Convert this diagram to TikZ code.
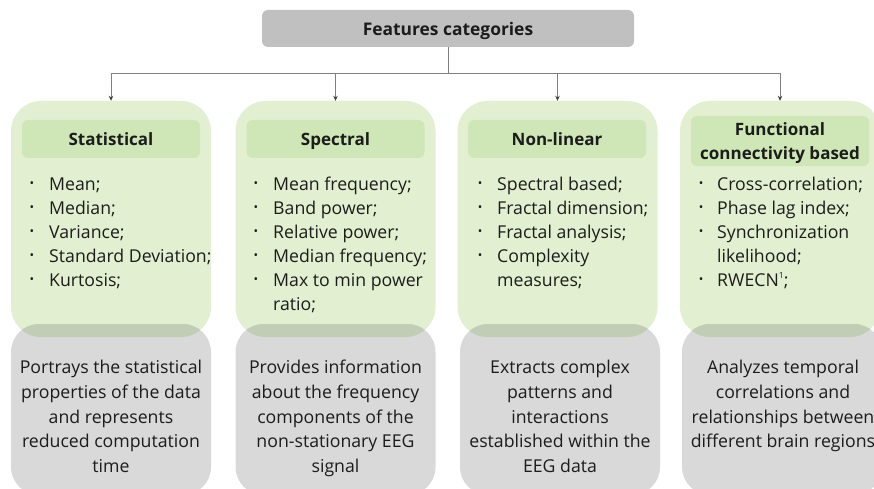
\documentclass[tikz,border=0pt]{standalone}
\usepackage{fontspec}
\setmainfont{Open Sans}
\usetikzlibrary{arrows.meta,calc}

\definecolor{greenbg}{RGB}{226,240,209}
\definecolor{greenhd}{RGB}{207,231,182}
\definecolor{greydesc}{RGB}{217,217,217}
\definecolor{greytitle}{RGB}{192,192,192}
\definecolor{overlapc}{RGB}{193,205,180}
\definecolor{ink}{RGB}{28,28,28}
\definecolor{linecol}{RGB}{128,128,128}

\tikzset{
  catbox/.style={fill=greenbg, rounded corners=30pt, minimum width=200pt,
    minimum height=236pt, inner sep=0pt},
  headbox/.style={fill=greenhd, rounded corners=6pt, minimum width=178pt,
    minimum height=38pt, inner sep=0pt},
  descbox/.style={fill=greydesc, rounded corners=28pt, minimum width=200pt,
    minimum height=171pt, inner sep=0pt},
  titlebox/.style={fill=greytitle, rounded corners=6pt, minimum width=372pt,
    minimum height=37pt, inner sep=0pt},
  txt/.style={inner sep=0pt, text=ink, font=\fontsize{17.7}{24}\selectfont},
  hd/.style={inner sep=0pt, text=ink, font=\bfseries\fontsize{17}{24}\selectfont},
  ttl/.style={inner sep=0pt, text=ink, font=\bfseries\fontsize{17.4}{20}\selectfont},
  dot/.style={inner sep=0pt, text=ink, font=\fontsize{12}{12}\selectfont},
  trunk/.style={draw=linecol, line width=1pt},
  link/.style={draw=linecol, line width=1pt, -{Stealth[length=5pt,width=4.5pt,color=black!75]}},
}

% one bullet entry: name, bullet x, text x, baseline (downwards), text
\newcommand\entry[5]{%
  \node[dot, anchor=center] (#1b) at (#2,-#4+5.5) {•};
  \node[txt, anchor=base west] (#1t) at (#3,-#4) {#5};
}
% continuation line of a bullet entry
\newcommand\entrycont[4]{%
  \node[txt, anchor=base west] (#1) at (#2,-#3) {#4};
}

\begin{document}
\begin{tikzpicture}[x=1pt,y=1pt]
\useasboundingbox (0,0) rectangle (874,-489);
\clip (0,0) rectangle (874,-489);

% title
\node[titlebox] (title) at (448,-28.5) {};
\node[ttl, anchor=base] (titletext) at (448,-35.5) {Features categories};

% category panels
\node[catbox] (g1) at (111,-219) {};
\node[catbox] (g2) at (335.5,-219) {};
\node[catbox] (g3) at (557.5,-219) {};
\node[catbox] (g4) at (780,-219) {};

% description panels
\node[descbox] (d1) at (111,-409.5) {};
\node[descbox] (d2) at (335.5,-409.5) {};
\node[descbox] (d3) at (560,-409.5) {};
\node[descbox] (d4) at (782,-409.5) {};

% darker band where the panels overlap
\foreach \gx/\dx in {111/111, 335.5/335.5, 557.5/560, 780/782}{
  \begin{scope}
    \clip[rounded corners=30pt] (\gx-100,-101) rectangle (\gx+100,-337);
    \fill[overlapc, rounded corners=28pt] (\dx-100,-324) rectangle (\dx+100,-495);
  \end{scope}
}

% connectors
\coordinate (hub) at (448,-74);
\draw[trunk] (title.south) -- (hub);
\draw[link] (hub) -| (g1.north);
\draw[link] (hub) -| (g2.north);
\draw[link] (hub) -| (g3.north);
\draw[link] (hub) -| (g4.north);

% headers
\node[headbox] (h1) at (111,-139) {};
\node[headbox] (h2) at (335.5,-139) {};
\node[headbox] (h3) at (557,-139) {};
\node[headbox, minimum height=50pt] (h4) at (780,-141) {};
\node[hd, anchor=base] (h1t) at (111,-146) {Statistical};
\node[hd, anchor=base] (h2t) at (335.5,-146) {Spectral};
\node[hd, anchor=base] (h3t) at (557,-146) {Non-linear};
\node[hd, anchor=base] (h4ta) at (780,-136) {Functional};
\node[hd, anchor=base] (h4tb) at (780,-160) {connectivity based};

% statistical
\entry{s1}{32}{49}{190}{Mean;}
\entry{s2}{32}{49}{214}{Median;}
\entry{s3}{32}{49}{238}{Variance;}
\entry{s4}{32}{49}{262}{Standard Deviation;}
\entry{s5}{32}{49}{286}{Kurtosis;}

% spectral
\entry{p1}{256}{273}{190}{Mean frequency;}
\entry{p2}{256}{273}{214}{Band power;}
\entry{p3}{256}{273}{238}{Relative power;}
\entry{p4}{256}{273}{262}{Median frequency;}
\entry{p5}{256}{273}{286}{Max to min power}
\entrycont{p5c}{273}{310}{ratio;}

% non-linear
\entry{n1}{480}{497}{190}{Spectral based;}
\entry{n2}{480}{497}{214}{Fractal dimension;}
\entry{n3}{480}{497}{238}{Fractal analysis;}
\entry{n4}{480}{497}{262}{Complexity}
\entrycont{n4c}{497}{286}{measures;}

% functional connectivity
\entry{f1}{701}{717}{190}{Cross-correlation;}
\entry{f2}{701}{717}{214}{Phase lag index;}
\entry{f3}{701}{717}{238}{Synchronization}
\entrycont{f3c}{717}{262}{likelihood;}
\entry{f4}{701}{717}{286}{RWECN\raisebox{7.5pt}{\fontsize{8.5}{8.5}\selectfont 1};}

% descriptions
\foreach \i/\txtline in {0/Portrays the statistical, 1/properties of the data,
    2/and represents, 3/reduced computation, 4/time}{
  \node[txt, anchor=base] (a\i) at (111,-373.5-24.8*\i) {\txtline};
}
\foreach \i/\txtline in {0/Provides information, 1/about the frequency,
    2/components of the, 3/non-stationary EEG, 4/signal}{
  \node[txt, anchor=base] (b\i) at (335.5,-373.5-24.8*\i) {\txtline};
}
\foreach \i/\txtline in {0/Extracts complex, 1/patterns and,
    2/interactions, 3/established within the, 4/EEG data}{
  \node[txt, anchor=base] (c\i) at (560,-373.5-24.8*\i) {\txtline};
}
\foreach \i/\txtline in {0/Analyzes temporal, 1/correlations and,
    2/relationships between, 3/different brain regions}{
  \node[txt, anchor=base] (e\i) at (783,-373.5-24.8*\i) {\txtline};
}
\end{tikzpicture}
\end{document}
